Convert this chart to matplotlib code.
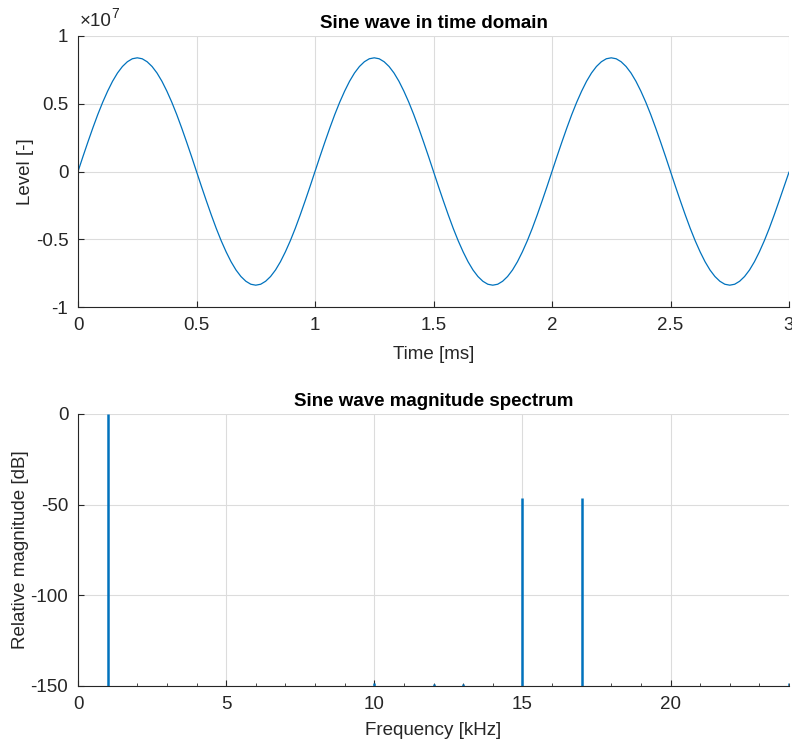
import numpy as np
import matplotlib
matplotlib.use('Agg')
import matplotlib.pyplot as plt

plt.rcParams['font.family'] = ['Liberation Sans', 'DejaVu Sans']
plt.rcParams['axes.unicode_minus'] = False

# Time domain samples (ms, level in units of 1e7), read every 1/48 ms
time_ms = [i / 48.0 for i in range(145)]
level_e7 = [
    0.000, 0.110, 0.217, 0.321, 0.420, 0.511, 0.593, 0.666, 0.727, 0.775, 0.810, 0.832,
    0.839, 0.832, 0.810, 0.775, 0.727, 0.666, 0.593, 0.511, 0.420, 0.321, 0.217, 0.110,
    0.000, -0.110, -0.217, -0.321, -0.420, -0.511, -0.593, -0.666, -0.727, -0.775, -0.810, -0.832,
    -0.839, -0.832, -0.810, -0.775, -0.727, -0.666, -0.593, -0.511, -0.420, -0.321, -0.217, -0.110,
    0.000, 0.110, 0.217, 0.321, 0.420, 0.511, 0.593, 0.666, 0.727, 0.775, 0.810, 0.832,
    0.839, 0.832, 0.810, 0.775, 0.727, 0.666, 0.593, 0.511, 0.420, 0.321, 0.217, 0.110,
    0.000, -0.110, -0.217, -0.321, -0.420, -0.511, -0.593, -0.666, -0.727, -0.775, -0.810, -0.832,
    -0.839, -0.832, -0.810, -0.775, -0.727, -0.666, -0.593, -0.511, -0.420, -0.321, -0.217, -0.110,
    0.000, 0.110, 0.217, 0.321, 0.420, 0.511, 0.593, 0.666, 0.727, 0.775, 0.810, 0.832,
    0.839, 0.832, 0.810, 0.775, 0.727, 0.666, 0.593, 0.511, 0.420, 0.321, 0.217, 0.110,
    0.000, -0.110, -0.217, -0.321, -0.420, -0.511, -0.593, -0.666, -0.727, -0.775, -0.810, -0.832,
    -0.839, -0.832, -0.810, -0.775, -0.727, -0.666, -0.593, -0.511, -0.420, -0.321, -0.217, -0.110,
    -0.005,
]

# Spectrum peaks (kHz, dB)
peak_khz = [1, 10, 12, 13, 15, 17, 24]
peak_db = [0, -148.5, -148.8, -148.8, -46.5, -46.5, -148.5]

blue = '#0072BD'
grid_c = '#dcdcdc'
axis_c = '#262626'
fs = 13.5

fig = plt.figure(figsize=(7.92, 7.42), dpi=100)
ax1 = fig.add_axes([78 / 792, 1 - 307 / 742, 711 / 792, 271 / 742])
ax2 = fig.add_axes([78 / 792, 1 - 686 / 742, 711 / 792, 272 / 742])

for ax in (ax1, ax2):
    ax.spines['top'].set_visible(False)
    ax.spines['right'].set_visible(False)
    ax.spines['left'].set_color(axis_c)
    ax.spines['bottom'].set_color(axis_c)
    ax.tick_params(direction='in', colors=axis_c, labelsize=fs, length=4, pad=7)
    ax.grid(True, color=grid_c, linewidth=0.8)
    ax.set_axisbelow(True)

# top: time domain
ax1.plot(time_ms, np.array(level_e7) * 1e7, color=blue, linewidth=0.9)
ax1.set_xlim(0, 3)
ax1.set_ylim(-1e7, 1e7)
ax1.set_xticks([0, 0.5, 1, 1.5, 2, 2.5, 3])
ax1.set_xticklabels(['0', '0.5', '1', '1.5', '2', '2.5', '3'])
ax1.set_yticks([-1e7, -0.5e7, 0, 0.5e7, 1e7])
ax1.set_yticklabels(['-1', '-0.5', '0', '0.5', '1'])
# exponent label, MATLAB style
ax1.annotate('\u00d710', xy=(0, 1), xycoords='axes fraction', xytext=(1, 4),
             textcoords='offset points', fontsize=fs, color=axis_c,
             ha='left', va='bottom')
ax1.annotate('7', xy=(0, 1), xycoords='axes fraction', xytext=(24, 11),
             textcoords='offset points', fontsize=10, color=axis_c,
             ha='left', va='bottom')
ax1.set_title('Sine wave in time domain', fontsize=fs, fontweight='bold', pad=6)
ax1.set_xlabel('Time [ms]', fontsize=fs, color=axis_c, labelpad=9)
ax1.set_ylabel('Level [-]', fontsize=fs, color=axis_c, labelpad=1)

# bottom: spectrum
ax2.vlines(peak_khz, -160, peak_db, color=blue, linewidth=1.8)
ax2.set_xlim(0, 24)
ax2.set_ylim(-150, 0)
ax2.set_xticks([0, 5, 10, 15, 20])
ax2.set_xticks(np.arange(0, 25, 1), minor=True)
ax2.tick_params(axis='x', which='minor', direction='in', length=2.5, colors=axis_c)
ax2.set_yticks([-150, -100, -50, 0])
ax2.set_title('Sine wave magnitude spectrum', fontsize=fs, fontweight='bold', pad=6)
ax2.set_xlabel('Frequency [kHz]', fontsize=fs, color=axis_c, labelpad=7)
ax2.set_ylabel('Relative magnitude [dB]', fontsize=fs, color=axis_c, labelpad=1)

fig.savefig('out.png', dpi=100, facecolor='white')
